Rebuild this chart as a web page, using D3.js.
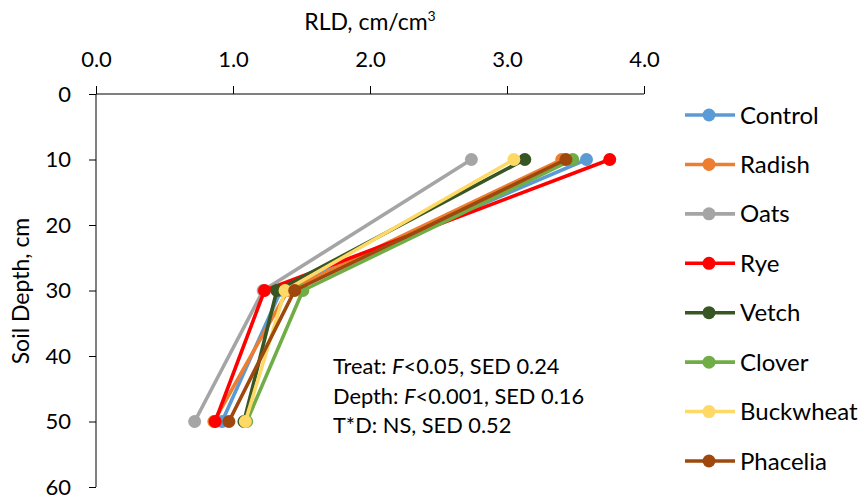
<!DOCTYPE html>
<html>
<head>
<meta charset="utf-8">
<script src="https://cdn.jsdelivr.net/npm/d3@7"></script>
<style>
  body { margin: 0; background: #fff; }
  text { font-family: Lato, "Open Sans", sans-serif; fill: #000; }
</style>
</head>
<body>
<svg width="863" height="499"></svg>
<script>
// depths (cm) and RLD values (cm/cm3)
const depths = [10, 30, 50];
const treatments = ['Control', 'Radish', 'Oats', 'Rye', 'Vetch', 'Clover', 'Buckwheat', 'Phacelia'];
const colors = ['#5B9BD5', '#ED7D31', '#A5A5A5', '#FF0000', '#375623', '#70AD47', '#FFD966', '#9E480E'];
const control = [3.58, 1.35, 0.92];
const radish = [3.40, 1.40, 0.86];
const oats = [2.74, 1.22, 0.72];
const rye = [3.75, 1.23, 0.87];
const vetch = [3.13, 1.32, 1.08];
const clover = [3.48, 1.51, 1.10];
const buckwheat = [3.05, 1.38, 1.09];
const phacelia = [3.43, 1.45, 0.97];
const series = [control, radish, oats, rye, vetch, clover, buckwheat, phacelia];
const xTicks = [0, 1, 2, 3, 4];
const yTicks = [0, 10, 20, 30, 40, 50, 60];
const notes = [
  ['Treat: ', 'F', '<0.05, SED 0.24'],
  ['Depth: ', 'F', '<0.001, SED 0.16'],
  ['T*D: NS, SED 0.52', '', '']
];

const svg = d3.select('svg');
const x = d3.scaleLinear().domain([0, 4]).range([96, 644]);
const y = d3.scaleLinear().domain([0, 60]).range([94, 487]);

// top axis
const xAxis = svg.append('g')
  .attr('transform', `translate(0,${y(0)})`)
  .call(d3.axisTop(x).tickValues(xTicks).tickFormat(d3.format('.1f')).tickSize(8).tickPadding(19));
xAxis.select('.domain').attr('stroke', '#000').attr('d', `M${x(0)},0H${x(4)}`);
xAxis.selectAll('.tick line').attr('stroke', '#000');
xAxis.selectAll('text').attr('font-size', 22).attr('font-family', 'Lato, sans-serif');

// left axis
const yAxis = svg.append('g')
  .attr('transform', `translate(${x(0)},0)`)
  .call(d3.axisLeft(y).tickValues(yTicks).tickSize(7).tickPadding(18));
yAxis.select('.domain').attr('stroke', '#000').attr('d', `M0,${y(0)}V${y(60)}`);
yAxis.selectAll('.tick line').attr('stroke', '#000');
yAxis.selectAll('text').attr('font-size', 22).attr('font-family', 'Lato, sans-serif');

// titles
const title = svg.append('text').attr('x', 370).attr('y', 30).attr('text-anchor', 'middle').attr('font-size', 23);
title.append('tspan').text('RLD, cm/cm');
title.append('tspan').text('3').attr('font-size', 14).attr('dy', -9);

svg.append('text')
  .attr('transform', 'translate(29,291) rotate(-90)')
  .attr('text-anchor', 'middle').attr('font-size', 23)
  .text('Soil Depth, cm');

// series
const line = d3.line().x(d => x(d[0])).y(d => y(d[1]));
series.forEach((vals, i) => {
  const pts = vals.map((v, j) => [v, depths[j]]);
  const g = svg.append('g');
  g.append('path').attr('d', line(pts)).attr('fill', 'none')
    .attr('stroke', colors[i]).attr('stroke-width', 3.6).attr('stroke-linejoin', 'round');
  g.selectAll('circle').data(pts).enter().append('circle')
    .attr('cx', d => x(d[0])).attr('cy', d => y(d[1])).attr('r', 6.5)
    .attr('fill', colors[i]);
});

// legend
const leg = d3.scalePoint().domain(treatments).range([115, 461]);
treatments.forEach((t, i) => {
  const g = svg.append('g').attr('transform', `translate(0,${leg(t)})`);
  g.append('line').attr('x1', 685).attr('x2', 735).attr('stroke', colors[i]).attr('stroke-width', 3.6);
  g.append('circle').attr('cx', 709).attr('r', 6.5).attr('fill', colors[i]);
  g.append('text').attr('x', 740).attr('dy', '0.36em').attr('font-size', 24).text(t);
});

// annotation
notes.forEach((n, i) => {
  const t = svg.append('text').attr('x', 333).attr('y', 374 + i * 29.5).attr('font-size', 21.8);
  t.append('tspan').text(n[0]);
  if (n[1]) t.append('tspan').attr('font-style', 'italic').text(n[1]);
  if (n[2]) t.append('tspan').text(n[2]);
});
</script>
</body>
</html>
